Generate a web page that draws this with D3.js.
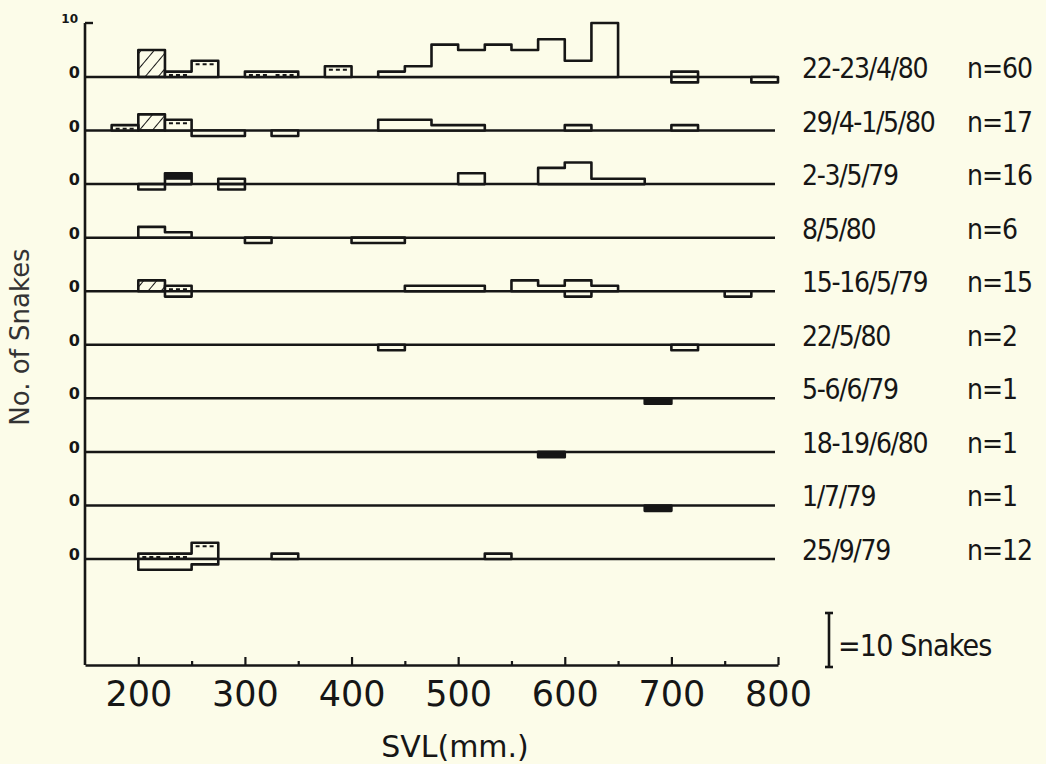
<!DOCTYPE html>
<html>
<head>
<meta charset="utf-8">
<script src="https://cdn.jsdelivr.net/npm/d3@7"></script>
<style>
  body { margin: 0; background: #fcfce9; }
  svg { display: block; }
</style>
</head>
<body>
<svg id="chart" width="1046" height="764"></svg>
<script>
// sampling dates (one row each) and sample sizes
const dates = ["22-23/4/80", "29/4-1/5/80", "2-3/5/79", "8/5/80", "15-16/5/79",
               "22/5/80", "5-6/6/79", "18-19/6/80", "1/7/79", "25/9/79"];
const counts = [60, 17, 16, 6, 15, 2, 1, 1, 1, 12];

const xTicks = [200, 300, 400, 500, 600, 700, 800];
const minorTicks = [250, 350, 450, 550, 650, 750];

// bins of 25 mm : [bin start (mm), no. of snakes, style]
// style: o = open, h = hatched, d = dashed top, s = solid top, f = solid
const above = [
  [[200,5,"h"],[225,1,"d"],[250,3,"d"],[300,1,"d"],[325,1,"d"],[375,2,"d"],[425,1,"o"],[450,2,"o"],
   [475,6,"o"],[500,5,"o"],[525,6,"o"],[550,5,"o"],[575,7,"o"],[600,3,"o"],[625,10,"o"],[700,1,"o"]],
  [[175,1,"d"],[200,3,"h"],[225,2,"d"],[425,2,"o"],[450,2,"o"],[475,1,"o"],[500,1,"o"],[600,1,"o"],[700,1,"o"]],
  [[225,2,"s"],[275,1,"o"],[500,2,"o"],[575,3,"o"],[600,4,"o"],[625,1,"o"],[650,1,"o"]],
  [[200,2,"o"],[225,1,"o"]],
  [[200,2,"h"],[225,1,"d"],[450,1,"o"],[475,1,"o"],[500,1,"o"],[550,2,"o"],[575,1,"o"],[600,2,"o"],[625,1,"o"]],
  [],
  [],
  [],
  [],
  [[200,1,"d"],[225,1,"d"],[250,3,"d"],[325,1,"o"],[525,1,"o"]]
];
const below = [
  [[700,1,"o"],[775,1,"o"]],
  [[250,1,"o"],[275,1,"o"],[325,1,"o"]],
  [[200,1,"o"],[275,1,"o"]],
  [[300,1,"o"],[400,1,"o"],[425,1,"o"]],
  [[225,1,"o"],[600,1,"o"],[750,1,"o"]],
  [[425,1,"o"],[700,1,"o"]],
  [[675,1,"f"]],
  [[575,1,"f"]],
  [[675,1,"f"]],
  [[200,2,"o"],[225,2,"o"],[250,1,"o"]]
];

const bg = "#fcfce9";
const ink = "#161616";
const binW = 25;
const axisY = 665;
const labelFont = "Liberation Sans Narrow, DejaVu Sans Condensed, sans-serif";

const svg = d3.select("#chart");

const x = d3.scaleLinear().domain([150, 800]).range([85, 778]);
const row = d3.scalePoint().domain(d3.range(dates.length)).range([77, 559]);
const h = d3.scaleLinear().domain([0, 10]).range([0, 54]);   // snakes -> bar height

const defs = svg.append("defs");
defs.append("pattern")
    .attr("id", "hatch")
    .attr("patternUnits", "userSpaceOnUse")
    .attr("width", 10).attr("height", 10)
    .attr("patternTransform", "rotate(40)")
  .append("line")
    .attr("x1", 0).attr("y1", 0).attr("x2", 0).attr("y2", 10)
    .attr("stroke", ink).attr("stroke-width", 2);

// join adjacent bins of the same style into one outlined block
function runs(bins) {
  const out = [];
  bins.forEach(b => {
    const last = out[out.length - 1];
    if (last && last.style === b[2] && last.end === b[0]) {
      last.bins.push(b);
      last.end = b[0] + binW;
    } else {
      out.push({ style: b[2], start: b[0], end: b[0] + binW, bins: [b] });
    }
  });
  return out;
}

function runPath(run, y0, dir) {
  const p = d3.path();
  p.moveTo(x(run.start), y0);
  run.bins.forEach(b => {
    p.lineTo(x(b[0]), y0 + dir * h(b[1]));
    p.lineTo(x(b[0] + binW), y0 + dir * h(b[1]));
  });
  p.lineTo(x(run.end), y0);
  p.closePath();
  return p.toString();
}

const fills = { o: bg, h: "url(#hatch)", d: bg, s: bg, f: ink };

// baselines
const rows = svg.append("g").selectAll("g")
  .data(dates)
  .join("g")
  .attr("class", "row");

rows.append("line")
    .attr("x1", x(150)).attr("x2", x(800) - 3)
    .attr("y1", (d, i) => row(i)).attr("y2", (d, i) => row(i))
    .attr("stroke", ink).attr("stroke-width", 2.5);

function drawSide(g, bins, y0, dir) {
  runs(bins).forEach(run => {
    g.append("path")
      .attr("d", runPath(run, y0, dir))
      .attr("fill", fills[run.style])
      .attr("stroke", ink)
      .attr("stroke-width", 2.6)
      .attr("stroke-linejoin", "round");

    if (run.style === "d") {
      run.bins.forEach(b => {
        const yy = y0 + dir * (h(b[1]) - 3.5);
        g.append("line")
          .attr("x1", x(b[0]) + 4).attr("x2", x(b[0] + binW) - 4)
          .attr("y1", yy).attr("y2", yy)
          .attr("stroke", ink).attr("stroke-width", 2)
          .attr("stroke-dasharray", "4,3");
      });
    }
    if (run.style === "s") {
      run.bins.forEach(b => {
        const top = y0 + dir * h(b[1]);
        g.append("rect")
          .attr("x", x(b[0])).attr("width", x(b[0] + binW) - x(b[0]))
          .attr("y", dir < 0 ? top : y0 + h(b[1]) * 0.4)
          .attr("height", h(b[1]) * 0.6)
          .attr("fill", ink);
      });
    }
  });
}

rows.each(function(d, i) {
  const g = d3.select(this);
  drawSide(g, above[i], row(i), -1);
  drawSide(g, below[i], row(i), 1);
});

// "0" label at each baseline
rows.append("text")
    .attr("x", 80).attr("y", (d, i) => row(i) + 1)
    .attr("text-anchor", "end")
    .attr("font-family", "DejaVu Sans, sans-serif")
    .attr("font-weight", "bold")
    .attr("font-size", 16)
    .attr("fill", ink)
    .text("0");

// date and n labels
rows.append("text")
    .attr("x", 802).attr("y", (d, i) => row(i) + 1)
    .attr("font-family", labelFont)
    .attr("font-size", 28)
    .attr("letter-spacing", -1.3)
    .attr("fill", ink)
    .text(d => d);

rows.append("text")
    .attr("x", 967).attr("y", (d, i) => row(i) + 1)
    .attr("font-family", labelFont)
    .attr("font-size", 28)
    .attr("letter-spacing", -1)
    .attr("fill", ink)
    .text((d, i) => "n=" + counts[i]);

// y axis: vertical line with the "10" tick at the top
const yTop = row(0) - h(10);
svg.append("line")
    .attr("x1", x(150)).attr("x2", x(150))
    .attr("y1", yTop).attr("y2", axisY)
    .attr("stroke", ink).attr("stroke-width", 2.6);
svg.append("line")
    .attr("x1", x(150)).attr("x2", x(150) + 8)
    .attr("y1", yTop).attr("y2", yTop)
    .attr("stroke", ink).attr("stroke-width", 2.4);
svg.append("text")
    .attr("x", 78).attr("y", yTop)
    .attr("text-anchor", "end")
    .attr("font-family", "DejaVu Sans, sans-serif")
    .attr("font-weight", "bold")
    .attr("font-size", 12)
    .attr("fill", ink)
    .text("10");

// x axis
const xAxis = svg.append("g")
    .attr("transform", `translate(0,${axisY})`)
    .call(d3.axisBottom(x).tickValues(xTicks).tickSize(-8).tickSizeOuter(0).tickPadding(16));
xAxis.select(".domain").attr("stroke", ink).attr("stroke-width", 2.6);
xAxis.selectAll(".tick line").attr("stroke", ink).attr("stroke-width", 2.2);
xAxis.selectAll(".tick text")
    .attr("font-family", "DejaVu Sans, sans-serif")
    .attr("font-size", 35)
    .attr("fill", ink);

const minor = svg.append("g")
    .attr("transform", `translate(0,${axisY})`)
    .call(d3.axisBottom(x).tickValues(minorTicks).tickSize(-4).tickSizeOuter(0).tickFormat(""));
minor.select(".domain").remove();
minor.selectAll(".tick line").attr("stroke", ink).attr("stroke-width", 2.2);

// axis titles
svg.append("text")
    .attr("x", 455).attr("y", 757)
    .attr("text-anchor", "middle")
    .attr("font-family", "DejaVu Sans, sans-serif")
    .attr("font-size", 30)
    .attr("fill", ink)
    .text("SVL(mm.)");

svg.append("text")
    .attr("transform", "translate(29,337) rotate(-90)")
    .attr("text-anchor", "middle")
    .attr("font-family", "DejaVu Sans, sans-serif")
    .attr("font-size", 26)
    .attr("fill", "#333")
    .text("No. of Snakes");

// scale key: bar of 10 snakes
const keyX = 829, keyBottom = 667, keyTop = keyBottom - h(10);
const key = svg.append("g").attr("stroke", ink).attr("stroke-width", 2.6);
key.append("line").attr("x1", keyX).attr("x2", keyX).attr("y1", keyTop).attr("y2", keyBottom);
key.append("line").attr("x1", keyX - 4).attr("x2", keyX + 4).attr("y1", keyTop).attr("y2", keyTop);
key.append("line").attr("x1", keyX - 4).attr("x2", keyX + 4).attr("y1", keyBottom).attr("y2", keyBottom);
svg.append("text")
    .attr("x", keyX + 9).attr("y", 656)
    .attr("font-family", labelFont)
    .attr("font-size", 30)
    .attr("letter-spacing", -0.8)
    .attr("fill", ink)
    .text("=10 Snakes");
</script>
</body>
</html>
